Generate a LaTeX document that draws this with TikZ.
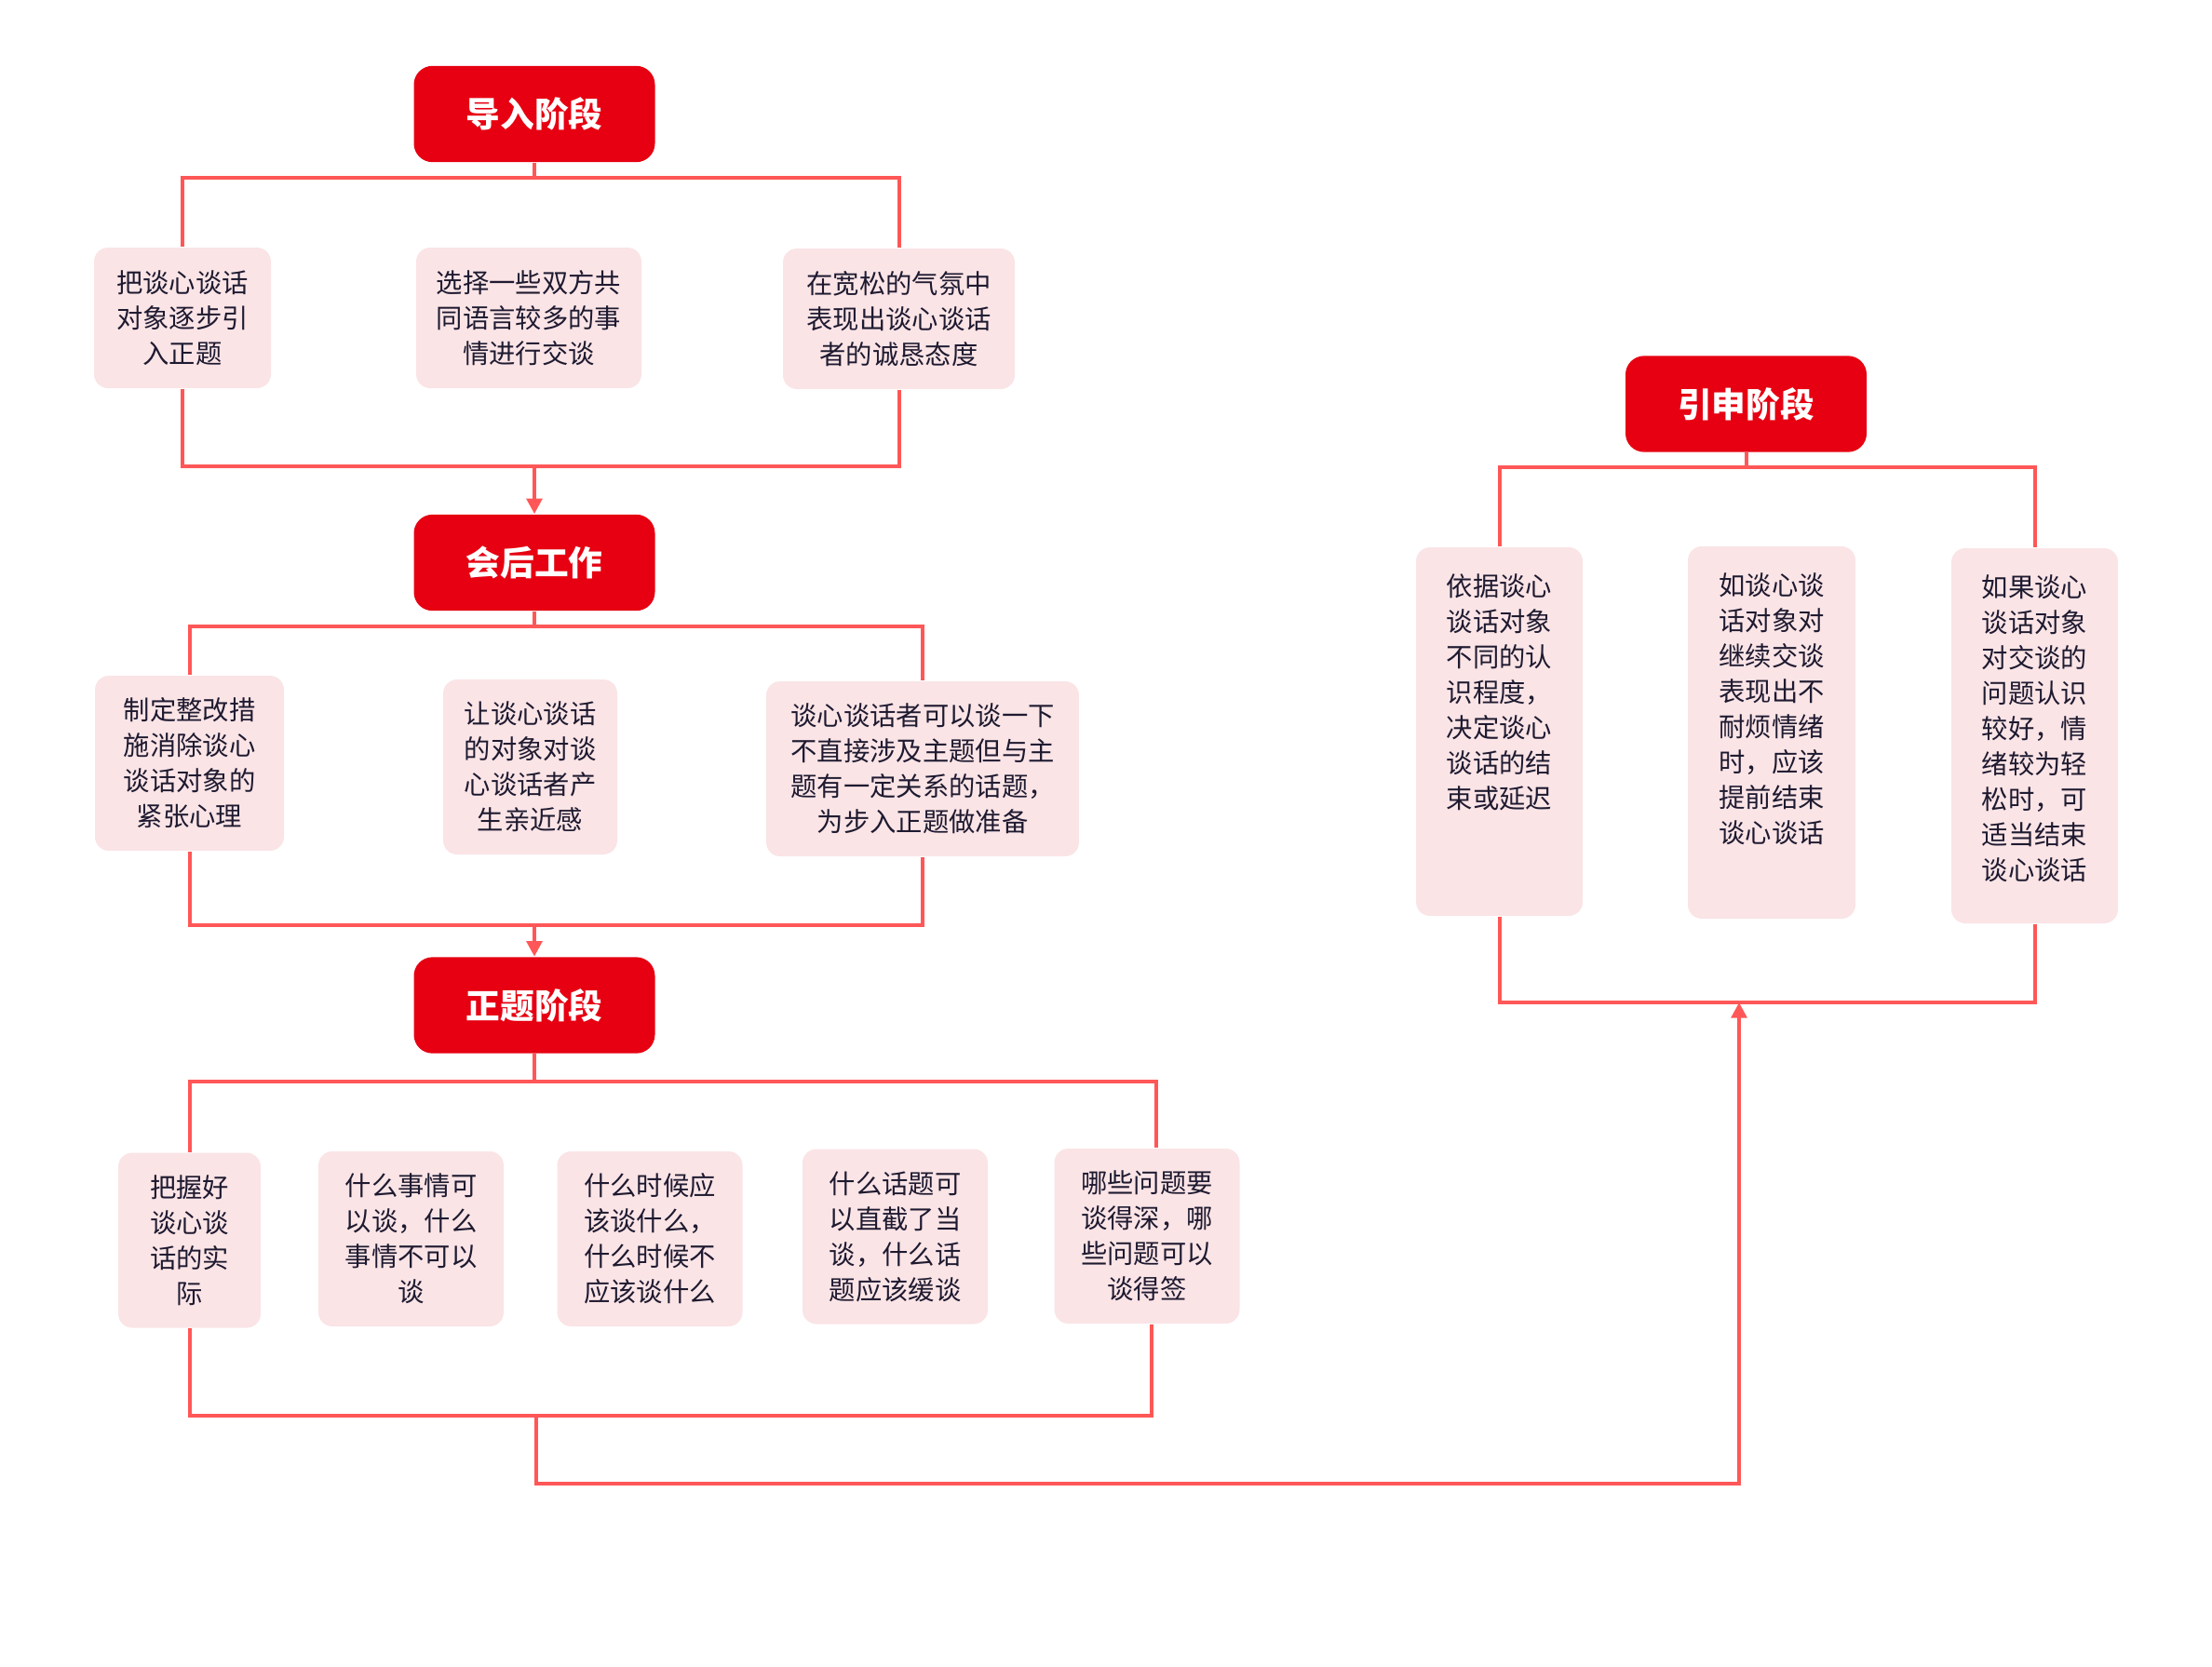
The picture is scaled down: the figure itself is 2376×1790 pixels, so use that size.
\documentclass[tikz,border=0pt]{standalone}
\usepackage{fontspec}
\setmainfont{Noto Sans CJK SC}
\usetikzlibrary{arrows.meta}
\definecolor{stagered}{HTML}{E60012}
\definecolor{notepink}{HTML}{FAE4E6}
\definecolor{linkred}{HTML}{FF5757}
\definecolor{notetext}{HTML}{1E1A30}

\begin{document}
\begin{tikzpicture}[x=0.3pt, y=-0.3pt,
	stage/.style={fill=stagered, rounded corners=6pt, text=white, font=\fontsize{11pt}{13pt}\selectfont\bfseries, minimum width=77.7pt, minimum height=31pt, inner sep=0pt},
	words/.style={text=notetext, font=\fontsize{8.5pt}{11.4pt}\selectfont, align=center, inner sep=0pt},
	note/.style={words, fill=notepink, rounded corners=4.5pt},
	link/.style={draw=linkred, line width=1.2pt},
	tip/.style={-{Triangle[width=5pt,length=5pt]}}]
	\useasboundingbox (0,0) rectangle (2376,1790);

	\node[stage] (intro) at (574,122.5) {导入阶段};
	\node[note, minimum width=57pt, minimum height=45.3pt] (a1) at (196,341.5) {把谈心谈话\\对象逐步引\\入正题};
	\node[note, minimum width=72.6pt, minimum height=45.3pt] (a2) at (568,341.5) {选择一些双方共\\同语言较多的事\\情进行交谈};
	\node[note, minimum width=74.7pt, minimum height=45.3pt] (a3) at (965.5,342.5) {在宽松的气氛中\\表现出谈心谈话\\者的诚恳态度};

	\node[stage] (after) at (574,604.5) {会后工作};
	\node[note, minimum width=60.9pt, minimum height=56.4pt] (b1) at (203.5,820) {制定整改措\\施消除谈心\\谈话对象的\\紧张心理};
	\node[note, minimum width=56.1pt, minimum height=56.4pt] (b2) at (569.5,824) {让谈心谈话\\的对象对谈\\心谈话者产\\生亲近感};
	\node[note, minimum width=100.8pt, minimum height=56.4pt] (b3) at (991,826) {谈心谈话者可以谈一下\\不直接涉及主题但与主\\题有一定关系的话题，\\为步入正题做准备};

	\node[stage] (main) at (574,1080) {正题阶段};
	\node[note, minimum width=45.9pt, minimum height=56.4pt] (c1) at (203.5,1332.5) {把握好\\谈心谈\\话的实\\际};
	\node[note, minimum width=59.7pt, minimum height=56.4pt] (c2) at (441.5,1331) {什么事情可\\以谈，什么\\事情不可以\\谈};
	\node[note, minimum width=59.7pt, minimum height=56.4pt] (c3) at (698,1331) {什么时候应\\该谈什么，\\什么时候不\\应该谈什么};
	\node[note, minimum width=59.7pt, minimum height=56.4pt] (c4) at (961.5,1328.5) {什么话题可\\以直截了当\\谈，什么话\\题应该缓谈};
	\node[note, minimum width=59.7pt, minimum height=56.4pt] (c5) at (1232,1328) {哪些问题要\\谈得深，哪\\些问题可以\\谈得签};

	\node[stage] (ext) at (1875.5,434) {引申阶段};
	\node[note, minimum width=53.7pt, minimum height=118.8pt] (d1) at (1610.5,786) {};
	\node[note, minimum width=54pt, minimum height=120pt] (d2) at (1903,787) {};
	\node[note, minimum width=53.7pt, minimum height=120.9pt] (d3) at (2185.5,790.5) {};
	\node[words, anchor=north] (d1text) at ([yshift=-8.5pt]d1.north) {依据谈心\\谈话对象\\不同的认\\识程度，\\决定谈心\\谈话的结\\束或延迟};
	\node[words, anchor=north] (d2text) at ([yshift=-8.5pt]d2.north) {如谈心谈\\话对象对\\继续交谈\\表现出不\\耐烦情绪\\时，应该\\提前结束\\谈心谈话};
	\node[words, anchor=north] (d3text) at ([yshift=-8.5pt]d3.north) {如果谈心\\谈话对象\\对交谈的\\问题认识\\较好，情\\绪较为轻\\松时，可\\适当结束\\谈心谈话};

	\coordinate (introbus) at (574,191);
	\coordinate (introjoin) at (574,501);
	\draw[link] (intro) -- (introbus);
	\draw[link] (a1.north) |- (introbus) -| (a3.north);
	\draw[link] (a1.south) |- (introjoin) -| (a3.south);
	\draw[link,tip] (introjoin) -- (after);

	\coordinate (afterbus) at (574,673);
	\coordinate (afterjoin) at (574,994);
	\draw[link] (after) -- (afterbus);
	\draw[link] (b1.north) |- (afterbus) -| (b3.north);
	\draw[link] (b1.south) |- (afterjoin) -| (b3.south);
	\draw[link,tip] (afterjoin) -- (main);

	\coordinate (mainbus) at (574,1162);
	\coordinate (mainjoin) at (576,1521);
	\coordinate (mainturn) at (576,1594);
	\draw[link] (main) -- (mainbus);
	\draw[link] (c1.north) |- (mainbus) -| ([xshift=3pt]c5.north);
	\draw[link] (c1.south) |- (mainjoin) -| ([xshift=1.5pt]c5.south);

	\coordinate (extbus) at (1875.5,502);
	\coordinate (extjoin) at (1868,1077);
	\draw[link] (ext) -- (extbus);
	\draw[link] (d1.north) |- (extbus) -| (d3.north);
	\draw[link] (d1.south) |- (extjoin) -| (d3.south);
	\draw[link,tip] (mainjoin) -- (mainturn) -| (extjoin);
\end{tikzpicture}
\end{document}
